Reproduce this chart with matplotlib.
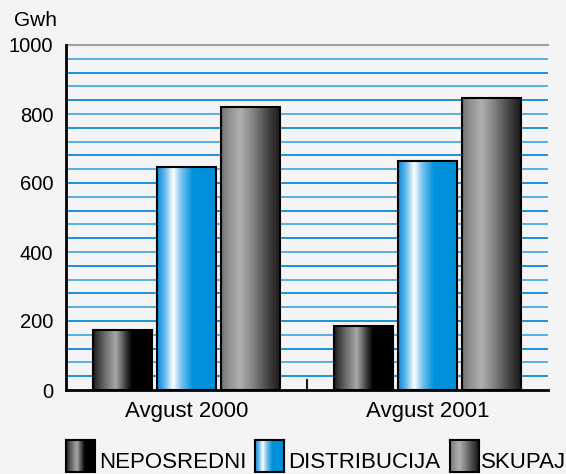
import numpy as np
import matplotlib
matplotlib.use("Agg")
import matplotlib.pyplot as plt
from matplotlib.colors import LinearSegmentedColormap

plt.rcParams['font.family'] = ['Liberation Sans', 'DejaVu Sans']

categories = ["Avgust 2000", "Avgust 2001"]
series_names = ["NEPOSREDNI", "DISTRIBUCIJA", "SKUPAJ"]
neposredni = [174, 185]
distribucija = [646, 664]
skupaj = [820, 846]
values = [neposredni, distribucija, skupaj]
y_ticks = [0, 200, 400, 600, 800, 1000]
unit_label = "Gwh"

BG = "#f4f4f6"
gradients = [
    [(0.0, "#1c1c1c"), (0.15, "#5a5a5a"), (0.38, "#a8a8a8"), (0.55, "#3a3a3a"), (0.65, "#000000"), (1.0, "#000000")],
    [(0.0, "#0a8ad8"), (0.12, "#5ab4ea"), (0.27, "#ffffff"), (0.40, "#7cc4ee"), (0.60, "#0092dc"), (1.0, "#0090da")],
    [(0.0, "#707070"), (0.12, "#8e8e8e"), (0.32, "#b0b0b0"), (0.55, "#808080"), (0.80, "#404040"), (1.0, "#181818")],
]
cmaps = [LinearSegmentedColormap.from_list(f"g{i}", g) for i, g in enumerate(gradients)]
grad = np.linspace(0, 1, 256).reshape(1, -1)

fig = plt.figure(figsize=(5.66, 4.74), dpi=100, facecolor=BG)
ax = fig.add_axes([66/566, 1-390/474, 482/566, 345/474], facecolor=BG)

x = np.arange(len(categories))
offsets = [-0.266, 0.0, 0.264]
width = 0.245

# grid lines
for yv in range(40, 1000, 40):
    ax.axhline(yv, color="#0a8cd8" if (yv // 40) % 2 else "#4aaae2", lw=1.3, zorder=1)

for si, vals in enumerate(values):
    bars = ax.bar(x + offsets[si], vals, width=width, facecolor="none",
                  edgecolor="black", linewidth=1.5, zorder=4)
    for b in bars:
        x0, y0 = b.get_x(), b.get_y()
        w, h = b.get_width(), b.get_height()
        im = ax.imshow(grad, cmap=cmaps[si], aspect="auto",
                       extent=[x0, x0 + w, y0, y0 + h], zorder=3,
                       interpolation="bilinear")
        im.set_clip_path(b)

ax.set_xlim(-0.5, 1.5)
ax.set_ylim(0, 1000)
ax.set_yticks(y_ticks)
ax.set_yticklabels([str(t) for t in y_ticks], fontsize=14.5)
ax.set_xticks(x)
ax.set_xticklabels(categories, fontsize=16)
ax.set_xticks([0.5], minor=True)
ax.tick_params(axis="y", length=0, pad=9)
ax.tick_params(axis="x", which="major", length=0, pad=8)
ax.tick_params(axis="x", which="minor", direction="in", length=8, width=1.3, color="black")

ax.spines["right"].set_visible(False)
ax.spines["top"].set_color("#a0a0a0")
ax.spines["top"].set_linewidth(1.5)
ax.spines["left"].set_linewidth(2)
ax.spines["bottom"].set_linewidth(2)
ax.spines["left"].set_zorder(6)
ax.spines["bottom"].set_zorder(6)

fig.text(14/566, 1-21/474, unit_label, fontsize=15, va="center", ha="left")

# legend
legend_items = [(66, 99), (255, 288), (450, 481)]
for si, (px, tx) in enumerate(legend_items):
    lax = fig.add_axes([px/566, 1-472/474, 29/566, 32/474])
    lax.imshow(grad, cmap=cmaps[si], aspect="auto", interpolation="bilinear")
    lax.set_xticks([]); lax.set_yticks([])
    for s in lax.spines.values():
        s.set_linewidth(1.5)
        s.set_color("black")
    fig.text(tx/566, 1-462/474, series_names[si], fontsize=16, va="center", ha="left")

fig.savefig("out.png", dpi=100, facecolor=BG)
